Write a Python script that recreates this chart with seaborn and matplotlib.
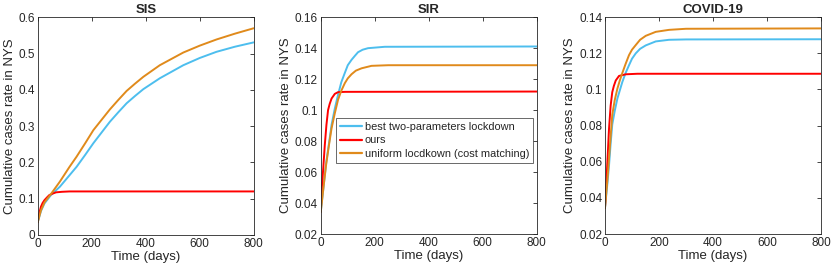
import numpy as np
import pandas as pd
import matplotlib
matplotlib.use("Agg")
import matplotlib.pyplot as plt
import seaborn as sns

titles = ["SIS", "SIR", "COVID-19"]
series_names = ["best two-parameters lockdown", "ours", "uniform locdkown (cost matching)"]

# SIS
sis_days_blue = [0, 12, 25, 49, 82, 117, 144, 175, 206, 237, 267, 298, 329, 360, 391, 452, 539, 600, 662, 730, 800]
sis_blue = [0.035, 0.066, 0.087, 0.110, 0.133, 0.164, 0.188, 0.220, 0.253, 0.283, 0.312, 0.338, 0.363, 0.383, 0.402, 0.432, 0.468, 0.488, 0.505, 0.519, 0.531]
sis_days_orange = [0, 12, 25, 49, 82, 117, 144, 175, 206, 237, 267, 298, 329, 360, 391, 452, 539, 600, 662, 730, 800]
sis_orange = [0.035, 0.068, 0.090, 0.113, 0.147, 0.187, 0.216, 0.252, 0.289, 0.318, 0.346, 0.372, 0.397, 0.417, 0.436, 0.468, 0.503, 0.522, 0.539, 0.555, 0.570]
sis_days_red = [0, 5, 12, 18, 25, 35, 43, 55, 68, 90, 118, 800]
sis_red = [0.035, 0.058, 0.078, 0.088, 0.096, 0.104, 0.110, 0.114, 0.1175, 0.119, 0.120, 0.120]

# SIR
sir_days_blue = [0, 10, 20, 30, 40, 52, 64, 76, 89, 100, 114, 126, 138, 155, 175, 237, 800]
sir_blue = [0.0343, 0.050, 0.066, 0.078, 0.0905, 0.101, 0.1099, 0.118, 0.124, 0.129, 0.1325, 0.135, 0.1374, 0.139, 0.140, 0.1409, 0.1411]
sir_days_orange = [0, 10, 20, 30, 40, 52, 64, 76, 89, 100, 114, 130, 151, 188, 250, 800]
sir_orange = [0.0343, 0.050, 0.065, 0.077, 0.0883, 0.098, 0.1067, 0.1125, 0.1174, 0.1205, 0.1232, 0.1255, 0.127, 0.1286, 0.129, 0.129]
sir_days_red = [0, 4, 9, 15, 21, 27, 33, 40, 52, 64, 90, 800]
sir_red = [0.0343, 0.050, 0.062, 0.0776, 0.0905, 0.100, 0.104, 0.1075, 0.1105, 0.1116, 0.1118, 0.112]

# COVID-19
cov_days_blue = [0, 9, 15, 21, 27, 36, 46, 55, 64, 76, 89, 100, 114, 130, 151, 188, 237, 300, 800]
cov_blue = [0.0343, 0.048, 0.058, 0.070, 0.0806, 0.088, 0.095, 0.0995, 0.104, 0.109, 0.1134, 0.117, 0.120, 0.1225, 0.1244, 0.1266, 0.1275, 0.1277, 0.1278]
cov_days_orange = [0, 9, 15, 21, 27, 36, 46, 55, 64, 76, 89, 100, 114, 130, 151, 188, 237, 300, 800]
cov_orange = [0.0343, 0.050, 0.062, 0.074, 0.086, 0.094, 0.1005, 0.105, 0.109, 0.114, 0.119, 0.122, 0.1246, 0.1275, 0.1297, 0.1319, 0.133, 0.1336, 0.1338]
cov_days_red = [0, 4, 9, 15, 21, 27, 33, 40, 52, 77, 120, 800]
cov_red = [0.0343, 0.045, 0.060, 0.0783, 0.091, 0.0985, 0.102, 0.105, 0.1075, 0.1084, 0.1087, 0.1087]

ylims = [(0, 0.6), (0.02, 0.16), (0.02, 0.14)]
yticks = [[0, 0.1, 0.2, 0.3, 0.4, 0.5, 0.6],
          [0.02, 0.04, 0.06, 0.08, 0.1, 0.12, 0.14, 0.16],
          [0.02, 0.04, 0.06, 0.08, 0.1, 0.12, 0.14]]
ytick_labels = [["0", "0.1", "0.2", "0.3", "0.4", "0.5", "0.6"],
                ["0.02", "0.04", "0.06", "0.08", "0.1", "0.12", "0.14", "0.16"],
                ["0.02", "0.04", "0.06", "0.08", "0.1", "0.12", "0.14"]]
xticks = [0, 200, 400, 600, 800]

panels = [
    [(sis_days_blue, sis_blue), (sis_days_red, sis_red), (sis_days_orange, sis_orange)],
    [(sir_days_blue, sir_blue), (sir_days_red, sir_red), (sir_days_orange, sir_orange)],
    [(cov_days_blue, cov_blue), (cov_days_red, cov_red), (cov_days_orange, cov_orange)],
]

colors = {series_names[0]: "#4DBEEE", series_names[1]: "#FF0000", series_names[2]: "#E08A1B"}

sns.set_style("white")
plt.rcParams['font.family'] = ['Liberation Sans', 'DejaVu Sans']

fig = plt.figure(figsize=(8.31, 2.71), dpi=100)
lefts = [0.0454, 0.386, 0.728]
bottoms = [0.133, 0.1365, 0.1365]
heights = [0.803, 0.800, 0.800]
width = 0.260

for i in range(3):
    ax = fig.add_axes([lefts[i], bottoms[i], width, heights[i]])
    rows = []
    for name, (d, v) in zip(series_names, panels[i]):
        for dd, vv in zip(d, v):
            rows.append({"day": dd, "value": vv, "series": name})
    df = pd.DataFrame(rows)
    sns.lineplot(data=df, x="day", y="value", hue="series", palette=colors,
                 hue_order=series_names, ax=ax, linewidth=1.4, legend=(i == 1),
                 estimator=None, sort=True)
    for ln in ax.get_lines():
        ln.set_solid_joinstyle("round")
    ax.set_xlim(0, 800)
    ax.set_ylim(*ylims[i])
    ax.set_xticks(xticks)
    ax.set_xticklabels([str(x) for x in xticks])
    ax.set_yticks(yticks[i])
    ax.set_yticklabels(ytick_labels[i])
    ax.tick_params(axis="both", labelsize=8.5, colors="#262626", direction="in",
                   length=3, width=0.6, pad=2, top=True, right=True)
    for s in ax.spines.values():
        s.set_color("#262626")
        s.set_linewidth(0.6)
    ax.set_xlabel("Time (days)", fontsize=9.5, color="#262626", labelpad=1)
    ax.set_ylabel("Cumulative cases rate in NYS", fontsize=9.5, color="#262626", labelpad=2)
    ax.set_title(titles[i], fontsize=9.5, fontweight="bold", pad=3)
    if i == 1:
        leg = ax.legend(loc="lower left", bbox_to_anchor=(0.07, 0.327), fontsize=7.9,
                        frameon=True, fancybox=False, borderpad=0.35, labelspacing=0.35,
                        handlelength=2.0, handletextpad=0.3, borderaxespad=0)
        leg.get_frame().set_edgecolor("#262626")
        leg.get_frame().set_linewidth(0.6)
        for h in leg.get_lines():
            h.set_linewidth(1.6)

fig.savefig("out.png", dpi=100)
